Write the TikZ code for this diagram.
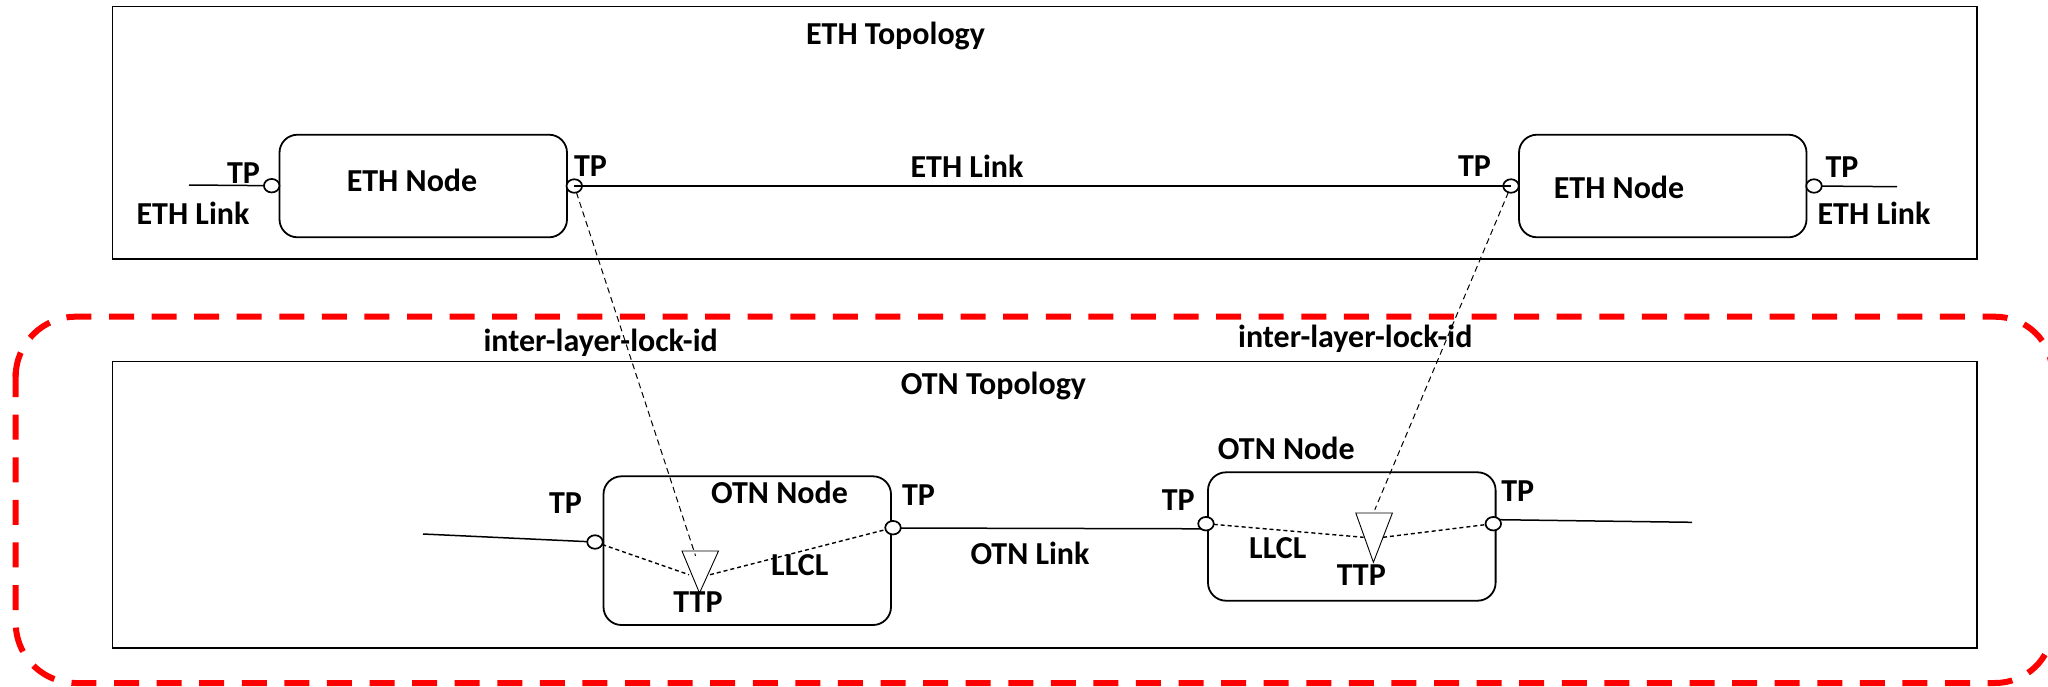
\documentclass[tikz,border=0pt]{standalone}
\usepackage{fontspec}
\usetikzlibrary{shapes.geometric}
\setmainfont{Carlito}[BoldFont={Carlito Bold}]
\definecolor{redline}{RGB}{255,0,0}
\tikzset{
 x=1pt,y=-1pt,
 lbl/.style={font=\fontsize{32}{32}\selectfont\bfseries,anchor=base,inner sep=0,outer sep=0,text=black,yshift=-1.3pt},
 topo/.style={draw=black,line width=1.7pt},
 noderect/.style={draw=black,line width=1.8pt,rounded corners=18pt},
 tpc/.style={ellipse,draw=black,fill=white,line width=1.7pt,minimum width=15.5pt,minimum height=13.5pt,inner sep=0,outer sep=0},
 ttp/.style={draw=black,fill=white,line width=0.9pt},
 link/.style={draw=black,line width=1.5pt},
 thindash/.style={draw=black,line width=1pt,dash pattern=on 6pt off 4pt},
 lldash/.style={draw=black,line width=1.4pt,dash pattern=on 4pt off 3pt},
 redbox/.style={draw=redline,line width=6pt,line cap=butt},
 dashA/.style={dash pattern=on 25pt off 17.58pt},
 dashB/.style={dash pattern=on 25pt off 17.58pt,dash phase=25pt},
}
\begin{document}
\begin{tikzpicture}
\useasboundingbox (0,0) rectangle (2048,686);
\path[clip] (0,0) rectangle (2048,686);
% topologies
\path[topo] (112.5,6.5) rectangle (1977,259);
\path[topo] (112.5,361.5) rectangle (1977,648);
% red box
\path[redbox,dashA] (109,316.7) -- (1995,316.7) arc[start angle=90,end angle=0,x radius=57,y radius=-55] -- (2052,400);
\path[redbox,dashB] (1970,683) -- (1995,683) arc[start angle=-90,end angle=0,x radius=57,y radius=-55] -- (2052,600);
\path[redbox,dashA] (1970,683) -- (75.7,683) arc[start angle=-90,end angle=-151.7,x radius=60,y radius=-60];
\path[redbox,dashA] (22.9,651.4) arc[start angle=208.3,end angle=180,x radius=60,y radius=-60] -- (15.7,372);
\path[redbox,dashB] (109,316.7) -- (75.7,316.7) arc[start angle=90,end angle=180,x radius=60,y radius=-60];
% nodes
\path[noderect] (279.5,134.7) rectangle (567,237.3);
\path[noderect] (1519,134.7) rectangle (1806.5,237.3);
\path[noderect] (603.5,476.3) rectangle (891,625);
\path[noderect] (1208,472.3) rectangle (1495.6,600.7);
% free ends
\coordinate (e1) at (189,185);
\coordinate (e2) at (1897,186.7);
\coordinate (o1) at (423,534);
\coordinate (o2) at (1692,522.3);
\coordinate (o3) at (1205,528.8);
\coordinate (o4) at (1499,519.7);
\coordinate (t1nw) at (682,551);
\coordinate (t1ne) at (718.5,551);
\coordinate (t1s) at (699.5,593);
\coordinate (t2nw) at (1355.8,513);
\coordinate (t2ne) at (1392.4,513);
\coordinate (t2s) at (1373.4,562.3);
\coordinate (t1l) at (689,574.7);
\coordinate (t1r) at (710,574.7);
\coordinate (t1t) at (695.6,556);
\coordinate (t2l) at (1363.6,537.3);
\coordinate (t2r) at (1383,537.3);
\coordinate (t2t) at (1374.8,509.7);
% ttp triangles
\draw[ttp] (t1nw) -- (t1ne) -- (t1s) -- cycle;
\draw[ttp] (t2nw) -- (t2ne) -- (t2s) -- cycle;
% links below the circles
\draw[link] (o3) -- (893,528);
% TP circles
\node[tpc] (tpa) at (271.7,185.7) {};
\node[tpc] (tpb) at (574.3,186) {};
\node[tpc] (tpc) at (1511,186) {};
\node[tpc] (tpd) at (1814,186) {};
\node[tpc] (tpe) at (595,542) {};
\node[tpc] (tpf) at (893,527.7) {};
\node[tpc] (tpg) at (1206,523.7) {};
\node[tpc] (tph) at (1493.3,523.7) {};
% links
\draw[link] (e1) -- (tpa);
\draw[link,line width=2.2pt] (tpb.center) -- (tpc.center);
\draw[link] (tpd) -- (e2);
\draw[link] (o1) -- (tpe);
\draw[link] (o4) -- (o2);
% dashed
\draw[thindash] (tpb) -- (t1t);
\draw[thindash] (tpc) -- (t2t);
\draw[lldash] (tpe) -- (t1l);
\draw[lldash] (t1r) -- (tpf);
\draw[lldash] (tpg) -- (t2l);
\draw[lldash] (t2r) -- (tph);
% labels
\node[lbl] (l1) at (895.5,43.3) {ETH Topology};
\node[lbl] (l2) at (243.5,182) {TP};
\node[lbl] (l3) at (193,223) {ETH Link};
\node[lbl] (l4) at (412,190) {ETH Node};
\node[lbl] (l5) at (590.5,174.7) {TP};
\node[lbl] (l6) at (967,176) {ETH Link};
\node[lbl] (l7) at (1474.5,174.7) {TP};
\node[lbl] (l8) at (1619,196.7) {ETH Node};
\node[lbl] (l9) at (1842,175.7) {TP};
\node[lbl] (l10) at (1874,223) {ETH Link};
\node[lbl] (l11) at (600.7,350) {inter-layer-lock-id};
\node[lbl] (l12) at (1355.3,346) {inter-layer-lock-id};
\node[lbl] (l13) at (993.5,393) {OTN Topology};
\node[lbl] (l14) at (779.5,501.7) {OTN Node};
\node[lbl] (l15) at (565.5,511.7) {TP};
\node[lbl] (l16) at (918.5,504.3) {TP};
\node[lbl] (l17) at (799.8,573.7) {LLCL};
\node[lbl] (l18) at (698,611) {TTP};
\node[lbl] (l19) at (1030,563) {OTN Link};
\node[lbl] (l20) at (1286.3,458.3) {OTN Node};
\node[lbl] (l21) at (1178.3,509) {TP};
\node[lbl] (l22) at (1517.8,499.7) {TP};
\node[lbl] (l23) at (1277.8,557) {LLCL};
\node[lbl] (l24) at (1361.3,583.7) {TTP};
\end{tikzpicture}
\end{document}
